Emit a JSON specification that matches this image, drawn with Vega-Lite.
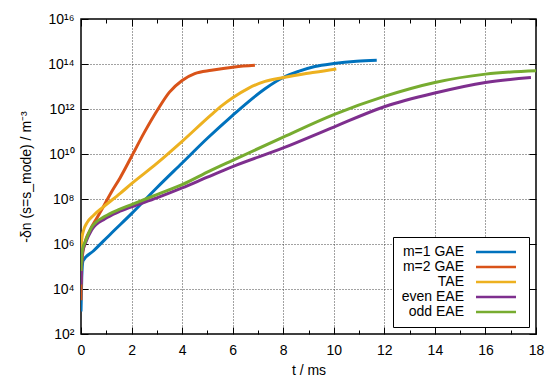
{
  "$schema": "https://vega.github.io/schema/vega-lite/v6.json",
  "width": 455,
  "height": 315,
  "autosize": {"type": "none"},
  "padding": {"left": 81, "top": 19, "right": 22, "bottom": 46},
  "background": "white",
  "config": {
    "font": "Liberation Sans",
    "view": {"stroke": "black", "strokeWidth": 1.5},
    "axis": {
      "domain": false,
      "labelFont": "Liberation Sans",
      "titleFont": "Liberation Sans",
      "labelFontSize": 14,
      "titleFontSize": 14,
      "titleFontWeight": "normal",
      "labelColor": "black",
      "titleColor": "black",
      "tickColor": "black",
      "tickWidth": 1
    }
  },
  "data": {
    "values": [
      {"series": "m=1 GAE", "t": 0, "dn": 1e3},
      {"series": "m=1 GAE", "t": 0.03, "dn": 3.16e4},
      {"series": "m=1 GAE", "t": 0.08, "dn": 1.78e5},
      {"series": "m=1 GAE", "t": 0.5, "dn": 5.01e5},
      {"series": "m=1 GAE", "t": 1.2, "dn": 3.02e6},
      {"series": "m=1 GAE", "t": 2, "dn": 2.24e7},
      {"series": "m=1 GAE", "t": 3, "dn": 3.16e8},
      {"series": "m=1 GAE", "t": 4, "dn": 3.98e9},
      {"series": "m=1 GAE", "t": 5, "dn": 5.01e10},
      {"series": "m=1 GAE", "t": 6, "dn": 5.25e11},
      {"series": "m=1 GAE", "t": 6.62, "dn": 2.09e12},
      {"series": "m=1 GAE", "t": 7.28, "dn": 7.94e12},
      {"series": "m=1 GAE", "t": 8, "dn": 2.51e13},
      {"series": "m=1 GAE", "t": 8.6, "dn": 4.68e13},
      {"series": "m=1 GAE", "t": 9.25, "dn": 7.76e13},
      {"series": "m=1 GAE", "t": 10, "dn": 1.05e14},
      {"series": "m=1 GAE", "t": 10.9, "dn": 1.32e14},
      {"series": "m=1 GAE", "t": 11.7, "dn": 1.45e14},

      {"series": "m=2 GAE", "t": 0, "dn": 3.16e3},
      {"series": "m=2 GAE", "t": 0.02, "dn": 1e5},
      {"series": "m=2 GAE", "t": 0.1, "dn": 6.31e5},
      {"series": "m=2 GAE", "t": 0.37, "dn": 4.37e6},
      {"series": "m=2 GAE", "t": 0.6, "dn": 1.26e7},
      {"series": "m=2 GAE", "t": 0.89, "dn": 4.68e7},
      {"series": "m=2 GAE", "t": 1.2, "dn": 2.0e8},
      {"series": "m=2 GAE", "t": 1.55, "dn": 8.91e8},
      {"series": "m=2 GAE", "t": 2, "dn": 7.76e9},
      {"series": "m=2 GAE", "t": 2.5, "dn": 8.91e10},
      {"series": "m=2 GAE", "t": 3.05, "dn": 1e12},
      {"series": "m=2 GAE", "t": 3.5, "dn": 5.62e12},
      {"series": "m=2 GAE", "t": 4, "dn": 1.86e13},
      {"series": "m=2 GAE", "t": 4.5, "dn": 3.72e13},
      {"series": "m=2 GAE", "t": 5.16, "dn": 5.25e13},
      {"series": "m=2 GAE", "t": 6.08, "dn": 7.41e13},
      {"series": "m=2 GAE", "t": 6.88, "dn": 8.71e13},

      {"series": "TAE", "t": 0, "dn": 3.16e5},
      {"series": "TAE", "t": 0.03, "dn": 1.58e6},
      {"series": "TAE", "t": 0.1, "dn": 3.98e6},
      {"series": "TAE", "t": 0.24, "dn": 8.91e6},
      {"series": "TAE", "t": 0.5, "dn": 1.91e7},
      {"series": "TAE", "t": 0.89, "dn": 4.47e7},
      {"series": "TAE", "t": 1.55, "dn": 1.78e8},
      {"series": "TAE", "t": 2, "dn": 4.79e8},
      {"series": "TAE", "t": 3, "dn": 3.80e9},
      {"series": "TAE", "t": 4, "dn": 3.63e10},
      {"series": "TAE", "t": 5.16, "dn": 5.62e11},
      {"series": "TAE", "t": 5.6, "dn": 1.48e12},
      {"series": "TAE", "t": 6, "dn": 3.16e12},
      {"series": "TAE", "t": 6.62, "dn": 8.32e12},
      {"series": "TAE", "t": 7.28, "dn": 1.70e13},
      {"series": "TAE", "t": 8, "dn": 2.51e13},
      {"series": "TAE", "t": 8.8, "dn": 3.63e13},
      {"series": "TAE", "t": 9.25, "dn": 4.27e13},
      {"series": "TAE", "t": 10.1, "dn": 6.03e13},

      {"series": "even EAE", "t": 0, "dn": 1.58e4},
      {"series": "even EAE", "t": 0.03, "dn": 2.51e5},
      {"series": "even EAE", "t": 0.07, "dn": 5.01e5},
      {"series": "even EAE", "t": 0.16, "dn": 1e6},
      {"series": "even EAE", "t": 0.42, "dn": 4.17e6},
      {"series": "even EAE", "t": 0.95, "dn": 1.32e7},
      {"series": "even EAE", "t": 1.47, "dn": 2.63e7},
      {"series": "even EAE", "t": 2, "dn": 4.47e7},
      {"series": "even EAE", "t": 3, "dn": 1.12e8},
      {"series": "even EAE", "t": 4, "dn": 3.09e8},
      {"series": "even EAE", "t": 5, "dn": 9.33e8},
      {"series": "even EAE", "t": 6, "dn": 2.75e9},
      {"series": "even EAE", "t": 8, "dn": 1.86e10},
      {"series": "even EAE", "t": 10, "dn": 1.58e11},
      {"series": "even EAE", "t": 12, "dn": 1.26e12},
      {"series": "even EAE", "t": 14, "dn": 5.13e12},
      {"series": "even EAE", "t": 16, "dn": 1.51e13},
      {"series": "even EAE", "t": 17.8, "dn": 2.51e13},

      {"series": "odd EAE", "t": 0, "dn": 6.31e4},
      {"series": "odd EAE", "t": 0.03, "dn": 3.16e5},
      {"series": "odd EAE", "t": 0.07, "dn": 6.31e5},
      {"series": "odd EAE", "t": 0.16, "dn": 1.2e6},
      {"series": "odd EAE", "t": 0.42, "dn": 5.5e6},
      {"series": "odd EAE", "t": 0.95, "dn": 1.7e7},
      {"series": "odd EAE", "t": 1.47, "dn": 3.31e7},
      {"series": "odd EAE", "t": 2, "dn": 5.62e7},
      {"series": "odd EAE", "t": 3, "dn": 1.58e8},
      {"series": "odd EAE", "t": 4, "dn": 4.37e8},
      {"series": "odd EAE", "t": 5.1, "dn": 1.78e9},
      {"series": "odd EAE", "t": 6, "dn": 5.25e9},
      {"series": "odd EAE", "t": 8, "dn": 5.62e10},
      {"series": "odd EAE", "t": 10, "dn": 5.62e11},
      {"series": "odd EAE", "t": 12, "dn": 3.63e12},
      {"series": "odd EAE", "t": 14, "dn": 1.51e13},
      {"series": "odd EAE", "t": 16, "dn": 3.55e13},
      {"series": "odd EAE", "t": 18, "dn": 5.01e13}
    ]
  },
  "layer": [
    {
      "mark": {"type": "line", "strokeWidth": 3, "clip": true, "interpolate": "monotone"},
      "encoding": {
        "x": {
          "field": "t", "type": "quantitative",
          "scale": {"domain": [0, 18], "nice": false, "zero": false},
          "axis": {
            "orient": "bottom",
            "title": "t / ms",
            "values": [0, 1, 2, 3, 4, 5, 6, 7, 8, 9, 10, 11, 12, 13, 14, 15, 16, 17, 18],
            "labelExpr": "datum.value % 2 == 0 ? datum.label : ''",
            "tickSize": {"condition": {"test": "datum.value % 2 == 0", "value": -7}, "value": -4},
            "labelPadding": 16,
            "grid": true,
            "gridColor": "#444",
            "gridDash": [1, 2],
            "gridOpacity": {"condition": {"test": "datum.value % 2 == 0 && datum.value > 0 && datum.value < 18", "value": 1}, "value": 0},
            "titlePadding": 6,
            "labelFlush": false
          }
        },
        "y": {
          "field": "dn", "type": "quantitative",
          "scale": {"type": "log", "domain": [1e2, 1e16], "nice": false},
          "axis": {
            "orient": "left",
            "title": "-δn (s=s_mode) / m⁻³",
            "values": [1e2, 1e4, 1e6, 1e8, 1e10, 1e12, 1e14, 1e16],
            "labelExpr": "'10' + ['', '', '²', '', '⁴', '', '⁶', '', '⁸', '', '¹⁰', '', '¹²', '', '¹⁴', '', '¹⁶'][round(log(datum.value) / LN10)]",
            "tickSize": -7,
            "labelPadding": 14,
            "grid": true,
            "gridColor": "#444",
            "gridDash": [1, 2],
            "gridOpacity": {"condition": {"test": "datum.value > 100 && datum.value < 1e16", "value": 1}, "value": 0},
            "titlePadding": 14,
            "labelFlush": false
          }
        },
        "color": {
          "field": "series", "type": "nominal",
          "scale": {
            "domain": ["m=1 GAE", "m=2 GAE", "TAE", "even EAE", "odd EAE"],
            "range": ["#0072BD", "#D95319", "#EDB120", "#7E2F8E", "#77AC30"]
          },
          "legend": {
            "title": null,
            "orient": "none",
            "legendX": 312,
            "legendY": 218,
            "strokeColor": "black",
            "fillColor": "white",
            "padding": 8,
            "symbolType": "M-4,0H4",
            "symbolSize": 100,
            "symbolStrokeWidth": 2.5,
            "symbolOffset": 88,
            "labelFont": "Liberation Sans",
            "labelFontSize": 14,
            "labelColor": "black",
            "labelAlign": "right",
            "labelOffset": -39,
            "rowPadding": 1
          }
        }
      }
    },
    {
      "mark": {"type": "line", "opacity": 0},
      "encoding": {
        "x": {
          "field": "t", "type": "quantitative",
          "axis": {
            "orient": "top", "title": null, "labels": false, "grid": false,
            "values": [0, 1, 2, 3, 4, 5, 6, 7, 8, 9, 10, 11, 12, 13, 14, 15, 16, 17, 18],
            "tickSize": {"condition": {"test": "datum.value % 2 == 0", "value": -7}, "value": -4}
          }
        },
        "y": {
          "field": "dn", "type": "quantitative",
          "axis": {
            "orient": "right", "title": null, "labels": false, "grid": false,
            "values": [1e2, 1e4, 1e6, 1e8, 1e10, 1e12, 1e14, 1e16],
            "tickSize": -7
          }
        },
        "detail": {"field": "series"}
      }
    }
  ],
  "resolve": {"axis": {"x": "independent", "y": "independent"}}
}
